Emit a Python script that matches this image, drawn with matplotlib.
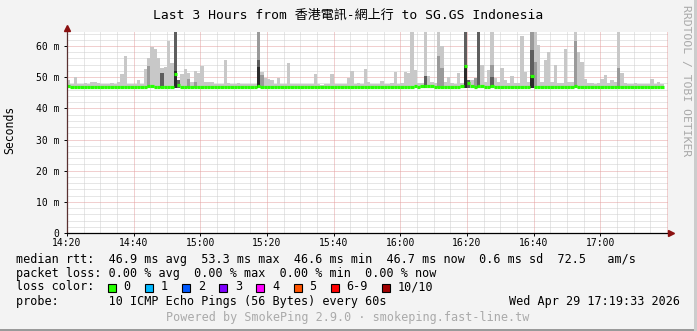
import matplotlib
matplotlib.use('Agg')
import matplotlib.pyplot as plt
from matplotlib.patches import Rectangle

W, H = 697, 331

# ---- data (one step = 60 s, starting 14:20) ----
rtt_max = [
    49.1, 47.8, 50.1, 47.8, 47.9, 48.0, 47.8, 48.6, 48.4, 48.0,
    47.8, 47.7, 47.9, 48.2, 47.8, 48.3, 51.0, 56.8, 47.9, 47.8,
    47.7, 49.0, 47.8, 52.6, 56.0, 59.8, 59.0, 56.2, 53.0, 53.2,
    61.6, 54.6, 64.5, 49.2, 51.0, 52.5, 51.5, 48.6, 52.0, 51.2,
    53.6, 48.5, 48.5, 48.4, 47.8, 47.9, 47.7, 55.5, 48.0, 47.8,
    47.7, 48.1, 47.8, 47.7, 47.9, 47.8, 47.7, 64.5, 51.6, 49.6,
    49.4, 49.0, 47.9, 49.6, 47.8, 47.8, 54.6, 47.8, 47.7, 47.9,
    47.8, 47.7, 47.8, 47.9, 51.0, 47.8, 47.6, 47.8, 47.7, 51.0,
    47.8, 47.7, 47.9, 47.8, 49.6, 52.1, 47.8, 48.0, 47.9, 52.6,
    48.3, 47.8, 47.7, 47.8, 48.9, 47.8, 47.9, 48.0, 51.8, 47.9,
    48.0, 51.6, 51.5, 64.5, 52.3, 48.0, 48.2, 64.5, 50.5, 48.3,
    48.0, 64.5, 59.9, 48.4, 50.0, 48.0, 47.9, 51.3, 48.0, 64.5,
    48.5, 49.0, 49.7, 64.5, 54.0, 48.5, 52.4, 64.5, 49.7, 48.3,
    52.9, 49.0, 48.0, 50.4, 48.1, 48.2, 63.1, 51.8, 48.3, 64.5,
    64.5, 60.4, 48.5, 55.6, 58.0, 48.3, 54.0, 48.2, 48.0, 59.0,
    48.3, 48.4, 64.5, 58.0, 55.0, 49.5, 48.2, 48.0, 47.9, 48.2,
    49.5, 50.6, 48.2, 49.0, 48.5, 64.5, 51.5, 48.0, 47.9, 47.8,
    48.2, 47.8, 47.7, 47.9, 47.8, 49.3, 47.8, 48.6, 47.8,
]

rtt_median = [
    47.2, 47.0, 46.9, 46.8, 46.8, 46.9, 46.9, 46.9, 47.0, 47.0,
    46.9, 46.9, 46.9, 47.0, 47.0, 47.0, 47.0, 47.0, 46.9, 47.0,
    47.0, 47.0, 47.0, 47.0, 47.3, 47.1, 47.0, 47.0, 46.8, 47.0,
    47.0, 47.0, 51.0, 47.4, 47.0, 47.0, 46.8, 47.0, 47.0, 47.0,
    46.9, 47.0, 47.0, 47.0, 47.0, 47.0, 46.8, 47.0, 47.0, 47.0,
    47.0, 46.9, 47.0, 47.0, 47.0, 46.8, 47.0, 47.3, 47.0, 46.9,
    47.0, 46.8, 47.0, 47.0, 47.0, 47.0, 47.0, 47.0, 46.9, 46.9,
    46.9, 47.0, 47.0, 47.0, 47.0, 47.0, 47.0, 47.0, 47.0, 47.0,
    46.8, 47.0, 47.0, 46.9, 47.0, 47.0, 47.0, 47.0, 46.8, 47.0,
    47.0, 47.0, 47.0, 46.9, 47.0, 47.0, 47.0, 47.0, 46.8, 47.0,
    47.0, 47.0, 47.0, 47.0, 47.1, 47.0, 47.1, 47.2, 47.2, 47.1,
    47.0, 47.0, 47.0, 46.9, 47.0, 47.0, 46.9, 47.0, 47.2, 53.5,
    48.1, 47.1, 47.0, 47.2, 47.1, 47.0, 47.0, 47.1, 47.0, 46.9,
    47.0, 46.9, 47.0, 47.0, 47.0, 47.0, 47.0, 47.0, 47.0, 50.5,
    47.0, 46.8, 47.0, 47.0, 47.0, 46.9, 47.0, 47.0, 46.9, 47.0,
    47.0, 47.0, 47.1, 47.0, 47.0, 47.0, 47.0, 46.9, 47.0, 47.0,
    47.0, 47.0, 47.0, 47.0, 47.0, 46.9, 47.0, 47.0, 46.8, 47.0,
    47.0, 46.9, 47.0, 47.0, 47.0, 47.0, 46.9, 47.0, 47.0,
]
rtt_floor = 46.6

# denser smoke where several pings pile up
mid_minutes = [24, 28, 32, 36, 38, 57, 58, 111, 112, 119, 122, 123, 127, 139, 140, 152, 165]
mid_tops = [53.6, 51.3, 64.5, 49.5, 48.5, 64.5, 50.7, 56.7, 53.0, 64.5, 49.7, 64.5, 54.0, 64.5, 55.0, 61.5, 53.0]
dark_minutes = [28, 32, 33, 57, 107, 119, 120, 123, 127, 139]
dark_tops = [51.3, 64.5, 49.0, 55.5, 50.3, 64.5, 49.0, 64.5, 50.0, 58.7]
core_minutes = [32, 57, 119, 139]
core_tops = [52.0, 53.4, 53.5, 50.5]

x_labels = ['14:20', '14:40', '15:00', '15:20', '15:40', '16:00', '16:20', '16:40', '17:00']
y_labels = ['0', '10 m', '20 m', '30 m', '40 m', '50 m', '60 m']

loss_labels = ['0', '1', '2', '3', '4', '5', '6-9', '10/10']
loss_colors = ['#26ff00', '#00b8ff', '#0059ff', '#7e00ff', '#ff00ff', '#ff5500', '#ff0000', '#a10000']

mono = ['DejaVu Sans Mono', 'Noto Sans CJK TC']

fig = plt.figure(figsize=(W / 100, H / 100), dpi=100)
fig.patch.set_facecolor('#f3f3f3')


def fx(px):
    return px / W


def fy(py):
    return 1 - py / H


# plot area pixels: x 67..668, y 32..233
ax = fig.add_axes([fx(67), fy(233), (668 - 67) / W, (233 - 32) / H])
ax.set_facecolor('white')
xmax = 180.3
ymax = 64.5
ax.set_xlim(0, xmax)
ax.set_ylim(0, ymax)

dot = (0, (1, 1))
for v in range(0, 65, 2):
    if v % 10 != 0:
        ax.axhline(v, color='#cfcfcf', lw=0.72, ls=dot, zorder=1)
for m in range(5, 181, 5):
    if m % 20 != 0:
        ax.axvline(m, color='#cfcfcf', lw=0.72, ls=dot, zorder=1)
for v in range(10, 65, 10):
    ax.axhline(v, color='#e4a0a0', lw=0.72, ls=dot, zorder=1)
for m in range(20, 181, 20):
    ax.axvline(m, color='#e4a0a0', lw=0.72, ls=dot, zorder=1)

minutes = list(range(len(rtt_max)))


def smoke(mins, tops, col, z):
    ax.bar(mins, [t - rtt_floor for t in tops], bottom=rtt_floor, width=1,
           align='edge', color=col, linewidth=0, zorder=z)


smoke(minutes, rtt_max, '#c8c8c8', 2)
smoke(mid_minutes, mid_tops, '#9a9a9a', 3)
smoke(dark_minutes, dark_tops, '#5e5e5e', 4)
smoke(core_minutes, core_tops, '#2a2a2a', 5)

ax.hlines(rtt_median, minutes, [m + 1 for m in minutes], colors='#26ff00',
          lw=2.3, zorder=6, capstyle='butt')

for s in ['top', 'right']:
    ax.spines[s].set_visible(False)
ax.spines['bottom'].set_color('#000000')
ax.spines['left'].set_color('#5a3030')
ax.spines['bottom'].set_linewidth(0.9)
ax.spines['left'].set_linewidth(0.9)
ax.spines['bottom'].set_zorder(7)
ax.spines['left'].set_zorder(7)

ax.set_xticks(range(0, 161, 20))
ax.set_xticklabels(x_labels)
ax.set_yticks(range(0, 61, 10))
ax.set_yticklabels(y_labels)
ax.tick_params(axis='x', length=2, width=0.7, pad=1.5, labelsize=7,
               labelfontfamily='DejaVu Sans Mono')
ax.tick_params(axis='y', length=2.5, width=0.7, pad=3, labelsize=7,
               labelfontfamily='DejaVu Sans Mono')

# axis arrows
ax.plot([0], [65.7], marker='^', color='#8b1010', markersize=5, clip_on=False, zorder=8)
ax.plot([181.1], [0], marker='>', color='#8b1010', markersize=5, clip_on=False, zorder=8)

# title and side texts
fig.text(fx(348), fy(15), 'Last 3 Hours from 香港電訊-網上行 to SG.GS Indonesia',
         ha='center', va='center', fontsize=9.4, family=mono, color='#000000')
fig.text(fx(10), fy(130), 'Seconds', rotation=90, ha='center', va='center',
         fontsize=8.3, family=mono)
fig.text(fx(686), fy(81), 'RRDTOOL / TOBI OETIKER', rotation=270, ha='center',
         va='center', fontsize=8.2, family=mono, color='#a8a8a8')

# legend lines
cw = 7.1
lx = 16
fs = 8.5
fig.text(fx(lx), fy(259), 'median rtt:  46.9 ms avg  53.3 ms max  46.6 ms min  46.7 ms now  0.6 ms sd  72.5   am/s',
         ha='left', va='center', fontsize=fs, family=mono)
fig.text(fx(lx), fy(273), 'packet loss: 0.00 % avg  0.00 % max  0.00 % min  0.00 % now',
         ha='left', va='center', fontsize=fs, family=mono)
fig.text(fx(lx), fy(287), 'loss color:', ha='left', va='center', fontsize=fs, family=mono)
bx = 108
for lab, col in zip(loss_labels, loss_colors):
    fig.patches.append(Rectangle((fx(bx), fy(291.5)), 8 / W, 8 / H, transform=fig.transFigure,
                                 facecolor=col, edgecolor='black', linewidth=0.8))
    fig.text(fx(bx + 15.5), fy(287), lab, ha='left', va='center', fontsize=fs, family=mono)
    bx = bx + 15.5 + len(lab) * cw + 14.5
fig.text(fx(lx), fy(301), 'probe:       10 ICMP Echo Pings (56 Bytes) every 60s',
         ha='left', va='center', fontsize=fs, family=mono)
fig.text(fx(680), fy(301), 'Wed Apr 29 17:19:33 2026', ha='right', va='center',
         fontsize=fs, family=mono)
fig.text(fx(348), fy(318), 'Powered by SmokePing 2.9.0 · smokeping.fast-line.tw',
         ha='center', va='center', fontsize=fs, family=mono, color='#aaaaaa')

# image frame
fig.patches.append(Rectangle((0, 0), 1, 2 / H, transform=fig.transFigure,
                             facecolor='#9a9a9a', linewidth=0))
fig.patches.append(Rectangle((1 - 3 / W, 0), 3 / W, 1, transform=fig.transFigure,
                             facecolor='#cccccc', linewidth=0))

fig.savefig('out.png', dpi=100, facecolor=fig.get_facecolor())
